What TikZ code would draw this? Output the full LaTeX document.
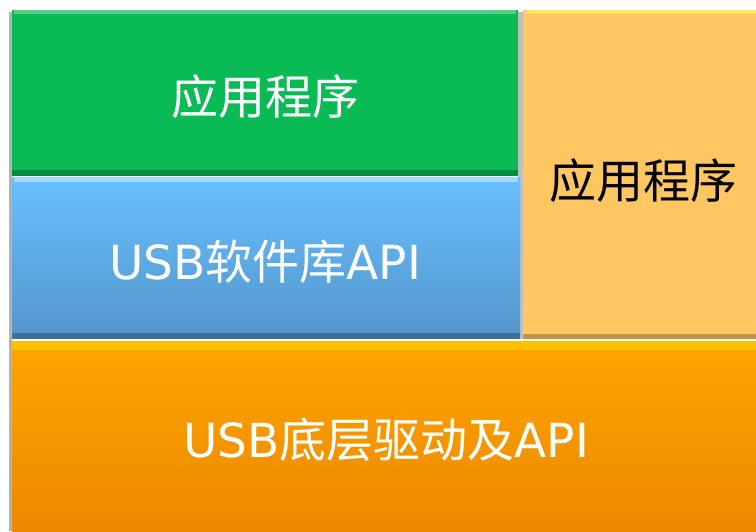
\documentclass[tikz,border=0pt]{standalone}
\usepackage{fontspec}
\newfontfamily\cjk{Noto Sans CJK SC}
\newfontfamily\latinf{DejaVu Sans}
\newcommand{\lat}[1]{{\latinf #1}}
\definecolor{appgreen}{HTML}{0ABA55}
\definecolor{libtop}{HTML}{68C0FF}
\definecolor{libbot}{HTML}{5495CA}
\definecolor{sidebox}{HTML}{FFC662}
\definecolor{drvtop}{HTML}{FFA500}
\definecolor{drvbot}{HTML}{EC8800}
\tikzset{
  lbl/.style={font=\cjk\fontsize{23.5}{28}\selectfont, inner sep=0pt},
  whitelbl/.style={lbl, text=white},
  blacklbl/.style={lbl, text=black},
}
\begin{document}
\begin{tikzpicture}[x=0.5pt,y=-0.5pt]
\useasboundingbox (0,0) rectangle (756,531);
\fill[white] (0,0) rectangle (756,531);
% shadow line on the left
\fill[black!30] (9,12) rectangle (12,531);
\fill[black!25] (518,12) rectangle (523,339);
% blocks
\fill[appgreen] (12,10) rectangle (518,175);
\fill[appgreen!70!white] (14,10) rectangle (516,14);
\fill[appgreen!75!black] (12,170) rectangle (518,176);
\shade[top color=libtop, bottom color=libbot] (12,177) rectangle (520,338);
\fill[libtop!60!white] (14,177) rectangle (518,182);
\fill[libbot!75!black] (12,333) rectangle (520,339);
\fill[sidebox] (523,10) rectangle (756,339);
\fill[sidebox!60!yellow!80!white] (525,10) rectangle (756,14);
\fill[sidebox!75!black] (523,334) rectangle (756,339);
\shade[top color=drvtop, bottom color=drvbot] (12,341) rectangle (756,531);
\fill[drvtop!70!yellow] (12,341) rectangle (756,350);
% labels
\node[whitelbl] (app) at (265,97) {应用程序};
\node[whitelbl] (usblib) at (265,262) {\lat{USB}软件库\lat{API}};
\node[blacklbl] (appside) at (643,181) {应用程序};
\node[whitelbl] (driver) at (386,440) {\lat{USB}底层驱动及\lat{API}};
\end{tikzpicture}
\end{document}
